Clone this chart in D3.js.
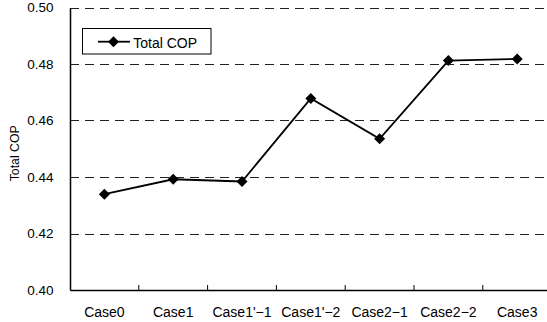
<!DOCTYPE html>
<html><head><meta charset="utf-8">
<script src="https://cdn.jsdelivr.net/npm/d3@7"></script>
<style>body{margin:0;background:#fff}svg{display:block}text{font-family:"Liberation Sans",Arial,sans-serif;fill:#000}</style>
</head><body><svg id="c" width="547" height="322"></svg>
<script>
const categories = ["Case0","Case1","Case1'\u22121","Case1'\u22122","Case2\u22121","Case2\u22122","Case3"];
const totalCOP = [0.4339, 0.4392, 0.4384, 0.4678, 0.4535, 0.4812, 0.4818];
const yTicks = [0.40, 0.42, 0.44, 0.46, 0.48, 0.50];
const seriesName = "Total COP";

const svg = d3.select("#c");
const L = 70, R = 551.6, T = 7.5, B = 290;
const x = d3.scaleBand().domain(categories).range([L, R]);
const y = d3.scaleLinear().domain([0.40, 0.50]).range([B, T]);
const FF = '"Liberation Sans",Arial,sans-serif';

// grid lines
svg.append("g").selectAll("line").data(yTicks.filter(d => d > 0.40)).join("line")
  .attr("x1", L).attr("x2", R)
  .attr("y1", d => Math.round(y(d)) + 0.5).attr("y2", d => Math.round(y(d)) + 0.5)
  .attr("stroke", "#222").attr("stroke-width", 1).attr("stroke-dasharray", "9,6");

// y axis
const ya = svg.append("g").attr("transform", `translate(${L},0)`)
  .call(d3.axisLeft(y).tickValues(yTicks).tickFormat(d3.format(".2f")).tickSize(0).tickPadding(16.5));
ya.select(".domain").attr("stroke", "#000").attr("stroke-width", 1.5);
ya.selectAll("text").attr("font-size", 13.5).attr("dy", "0.3em").style("font-family", FF);

// x axis
const xa = svg.append("g").attr("transform", `translate(0,${B})`)
  .call(d3.axisBottom(x).tickSize(0).tickPadding(0));
xa.select(".domain").attr("stroke", "#000").attr("stroke-width", 1.5);
xa.selectAll("text").attr("font-size", 14).attr("y", 26.5).attr("dy", null).style("font-family", FF);
// inward tick marks at band boundaries
svg.append("g").selectAll("line").data(categories.slice(1)).join("line")
  .attr("x1", d => x(d)).attr("x2", d => x(d))
  .attr("y1", B).attr("y2", B - 5).attr("stroke", "#000").attr("stroke-width", 1);

// y label
svg.append("text").attr("transform", `translate(19.3,153.3) rotate(-90)`)
  .attr("text-anchor", "middle").attr("font-size", 12.3).text(seriesName);

// line
const line = d3.line().x((d, i) => x(categories[i]) + x.bandwidth() / 2).y(d => y(d));
svg.append("path").datum(totalCOP).attr("d", line)
  .attr("fill", "none").attr("stroke", "#000").attr("stroke-width", 1.8);
const diamond = "M0,-5.5L5.5,0L0,5.5L-5.5,0Z";
svg.append("g").selectAll("path").data(totalCOP).join("path")
  .attr("transform", (d, i) => `translate(${x(categories[i]) + x.bandwidth() / 2},${y(d)})`)
  .attr("d", diamond).attr("fill", "#000");

// legend
const lg = svg.append("g");
lg.append("rect").attr("x", 82.5).attr("y", 28.5).attr("width", 128.5).attr("height", 25.5)
  .attr("fill", "#fff").attr("stroke", "#000").attr("stroke-width", 1);
lg.append("line").attr("x1", 98).attr("x2", 130).attr("y1", 41.7).attr("y2", 41.7)
  .attr("stroke", "#000").attr("stroke-width", 1.8);
lg.append("path").attr("transform", "translate(113.5,41.7)").attr("d", diamond).attr("fill", "#000");
lg.append("text").attr("x", 133.3).attr("y", 47.5).attr("font-size", 14).text(seriesName);
</script></body></html>
